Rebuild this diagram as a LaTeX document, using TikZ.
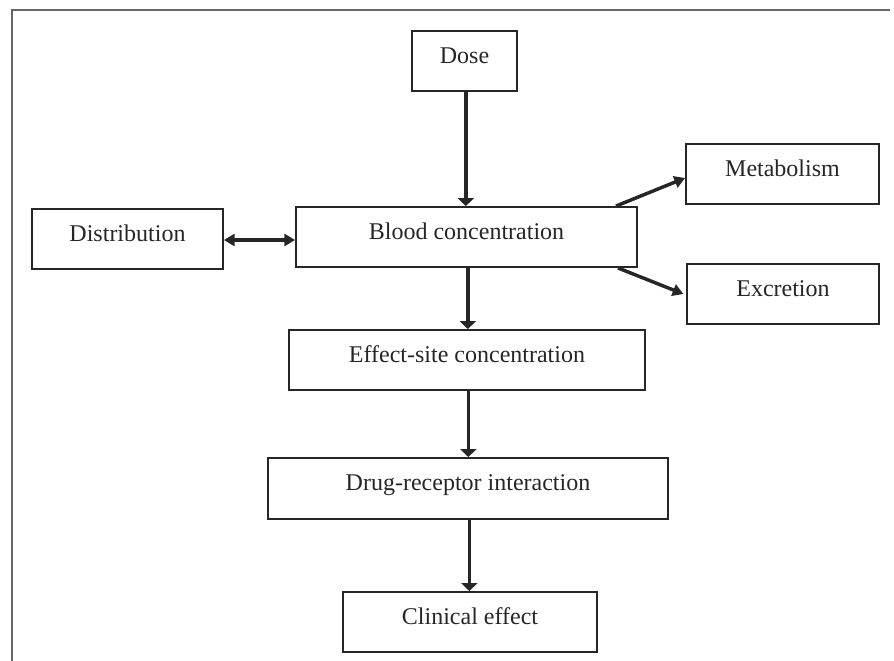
\documentclass[tikz,border=0pt]{standalone}
\usepackage{fontspec}
\setmainfont{Liberation Serif}
\usetikzlibrary{arrows.meta,calc}
\begin{document}
\begin{tikzpicture}[x=0.75pt,y=-0.75pt,
  box/.style={draw=black!85,line width=1.4pt,text=black!85,inner sep=0pt,
    font=\fontsize{18}{20}\selectfont,text height=13pt,text depth=10pt,
    minimum height=45pt},
  vflow/.style={draw=black!85,line width=2.6pt,-{Triangle[length=6pt,width=12pt]}},
  sflow/.style={draw=black!85,line width=2.6pt,-{Triangle[length=8pt,width=9pt]}},
  dflow/.style={draw=black!85,line width=2.6pt,{Triangle[length=8pt,width=9pt]}-{Triangle[length=8pt,width=9pt]}},
  frame/.style={draw=black!60,line width=1.1pt}]
\useasboundingbox (0,0) rectangle (894,661);
\coordinate (ftl) at (12,10);
\coordinate (ftr) at (890,10);
\coordinate (fbl) at (12,661);
\draw[frame] (ftr) -- (ftl) -- (fbl);

\node[box,minimum width=78.75pt] (dose) at (464.5,61) {Dose};
\node[box,minimum width=255.75pt] (blood) at (466.5,237) {Blood concentration};
\node[box,minimum width=143.25pt] (dist) at (127.5,239) {Distribution};
\node[box,minimum width=144.75pt] (metab) at (782.5,174) {Metabolism};
\node[box,minimum width=144pt] (excr) at (783,294) {Excretion};
\node[box,minimum width=267pt] (effect) at (467,360) {Effect-site concentration};
\node[box,minimum width=300pt,minimum height=45.75pt] (drug) at (468,488.5) {Drug-receptor interaction};
\node[box,minimum width=190.5pt] (clin) at (470,622) {Clinical effect};

\draw[vflow] ([xshift=1pt]dose.south) -- ([xshift=1pt]dose.south |- blood.north);
\draw[vflow] ([xshift=1pt]blood.south) -- ([xshift=1pt]blood.south |- effect.north);
\draw[vflow] ([xshift=1pt]effect.south) -- ([xshift=1pt]effect.south |- drug.north);
\draw[vflow] ([xshift=1pt]drug.south) -- ([xshift=1pt]drug.south |- clin.north);
\draw[dflow] ([yshift=-0.75pt]dist.east) -- ([yshift=-0.75pt]dist.east -| blood.west);
\draw[sflow] ([xshift=-16.5pt]blood.north east) -- ([yshift=-3pt]metab.west);
\draw[sflow] ([xshift=-15pt]blood.south east) -- ([xshift=-2pt]excr.west);
\end{tikzpicture}
\end{document}
